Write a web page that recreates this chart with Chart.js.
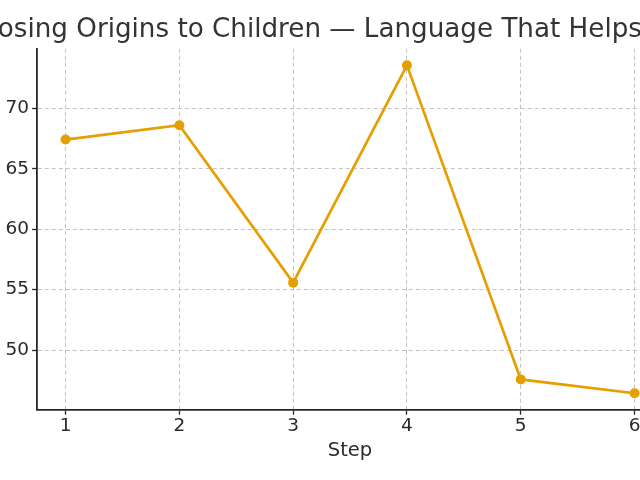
<!doctype html>
<html lang="en">

<head>
  <meta charset="utf-8">
  <title>Disclosing Origins to Children — Language That Helps</title>
  <style>
    html, body { margin: 0; padding: 0; background: #fff; overflow: hidden; width: 640px; height: 480px; }
    #wrap { position: absolute; left: -91px; top: 0; width: 759px; height: 480px; }
  </style>
</head>

<body>

  <div id="wrap">
    <canvas id="chart" width="759" height="480"></canvas>
  </div>

  <script src="https://cdn.jsdelivr.net/npm/chart.js"></script>

  <script>
    const chartTitle = 'Disclosing Origins to Children — Language That Helps';
    const xTitle = 'Step';
    const steps = [1, 2, 3, 4, 5, 6];
    const values = [67.43, 68.62, 55.58, 73.58, 47.57, 46.42];

    const lineColor = '#E69F00';
    const textColor = '#2b2b2b';
    const axisColor = '#262626';
    const gridColor = '#c4c4c4';

    const ctx = document.getElementById('chart');
    const myChart = new Chart(ctx, {
      type: 'line',
      data: {
        datasets: [
          {
            data: steps.map((s, i) => ({ x: s, y: values[i] })),
            borderColor: lineColor,
            backgroundColor: lineColor,
            borderWidth: 2.7,
            pointRadius: 5,
            pointBorderWidth: 0,
            pointBackgroundColor: lineColor,
            tension: 0,
            fill: false
          }
        ]
      },
      options: {
        responsive: false,
        animation: false,
        devicePixelRatio: 1,
        layout: {
          padding: 0
        },
        scales: {
          x: {
            type: 'linear',
            min: 0.75,
            max: 6.25,
            afterFit: function (scale) { scale.height = 70.3; },
            ticks: {
              stepSize: 1,
              includeBounds: false,
              color: textColor,
              padding: 0,
              font: { family: 'DejaVu Sans', size: 18.5 }
            },
            grid: {
              color: gridColor,
              lineWidth: 1,
              drawTicks: true,
              tickLength: 5,
              tickColor: axisColor,
              tickWidth: 1.3
            },
            border: {
              display: true,
              color: axisColor,
              width: 1.8,
              dash: [4, 3]
            },
            title: {
              display: true,
              text: xTitle,
              color: textColor,
              font: { family: 'DejaVu Sans', size: 19.5 },
              padding: { top: 4, bottom: 17 }
            }
          },
          y: {
            min: 45.06,
            max: 74.94,
            afterFit: function (scale) { scale.width = 128.1; },
            ticks: {
              stepSize: 5,
              includeBounds: false,
              color: textColor,
              padding: 3,
              font: { family: 'DejaVu Sans', size: 18.5 }
            },
            grid: {
              color: gridColor,
              lineWidth: 1,
              drawTicks: true,
              tickLength: 5,
              tickColor: axisColor,
              tickWidth: 1.3
            },
            border: {
              display: true,
              color: axisColor,
              width: 1.8,
              dash: [4, 3]
            }
          }
        },
        plugins: {
          legend: {
            display: false
          },
          tooltip: {
            enabled: false
          },
          title: {
            display: true,
            text: chartTitle,
            color: '#333333',
            font: { family: 'DejaVu Sans', size: 26.2, weight: 'normal' },
            padding: { top: 14.4, bottom: 3 }
          }
        }
      }
    });
  </script>

</body>

</html>
